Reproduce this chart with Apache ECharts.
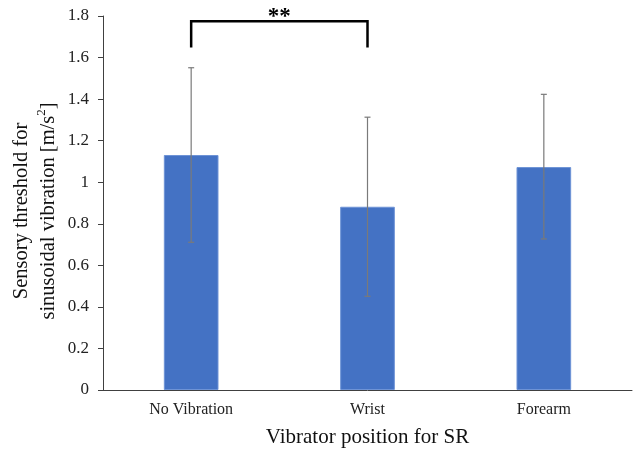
<!DOCTYPE html>
<html><head><meta charset="utf-8">
<script src="https://cdn.jsdelivr.net/npm/echarts@6/dist/echarts.min.js"></script>
<style>html,body{margin:0;padding:0;background:#fff}#c{width:638px;height:453px}</style>
</head><body><div id="c"></div>
<script>
const categories = ['No Vibration', 'Wrist', 'Forearm'];
const means = [1.131, 0.882, 1.073];
const errUpper = [1.551, 1.313, 1.423];
const errLower = [0.711, 0.451, 0.727];
const yTicks = [0, 0.2, 0.4, 0.6, 0.8, 1.0, 1.2, 1.4, 1.6, 1.8];
const bracketFrom = 0, bracketTo = 1;
const bracketLow = 1.648, bracketHigh = 1.775;
const bracketLabel = '**';
const xTitle = 'Vibrator position for SR';
const yTitle = 'Sensory threshold for\nsinusoidal vibration [m/s{sup|2}]';

const FONT = '"Liberation Serif", "Times New Roman", serif';
const chart = echarts.init(document.getElementById('c'), null, {renderer: 'canvas'});

chart.setOption({
  animation: false,
  backgroundColor: '#fff',
  grid: {left: 103, right: 6, top: 16, bottom: 63, containLabel: false, outerBoundsMode: 'none'},
  graphic: [{
    type: 'text', x: 35, y: 211, rotation: Math.PI / 2,
    style: {
      text: yTitle, textAlign: 'center', textVerticalAlign: 'middle', align: 'center', verticalAlign: 'middle',
      fontFamily: FONT, fontSize: 20.5, lineHeight: 27, fill: '#111',
      rich: {sup: {fontFamily: FONT, fontSize: 13, verticalAlign: 'top', lineHeight: 27, padding: [0, 0, 6, 0], fill: '#111'}}
    }
  }],
  xAxis: {
    type: 'category', data: categories,
    axisLine: {lineStyle: {color: '#404040', width: 1}},
    axisTick: {show: false},
    axisLabel: {fontFamily: FONT, fontSize: 16, color: '#222', margin: 12},
    name: xTitle, nameLocation: 'middle', nameGap: 37,
    nameTextStyle: {fontFamily: FONT, fontSize: 21, color: '#111'}
  },
  yAxis: {
    type: 'value', min: 0, max: 1.8, interval: 0.2,
    splitLine: {show: false},
    axisLine: {show: true, lineStyle: {color: '#404040', width: 1}},
    axisTick: {show: true, length: 5, lineStyle: {color: '#404040'}},
    axisLabel: {fontFamily: FONT, fontSize: 17, color: '#222', margin: 14,
      formatter: v => { const t = yTicks.find(x => Math.abs(x - v) < 1e-9); return t === undefined ? '' : String(+t.toFixed(1)); }}
  },
  series: [
    {
      type: 'bar', data: means, barWidth: '31%',
      itemStyle: {color: '#4472C4', borderColor: '#6E93D6', borderWidth: 1}
    },
    {
      type: 'custom',
      data: categories.map((c, i) => [i, errLower[i], errUpper[i]]),
      renderItem: (params, api) => {
        const x = api.value(0);
        const lo = api.coord([x, api.value(1)]);
        const hi = api.coord([x, api.value(2)]);
        const cap = 3;
        const style = {stroke: '#7a7a7a', lineWidth: 1.2};
        return {type: 'group', children: [
          {type: 'line', shape: {x1: lo[0], y1: lo[1], x2: hi[0], y2: hi[1]}, style},
          {type: 'line', shape: {x1: hi[0] - cap, y1: hi[1], x2: hi[0] + cap, y2: hi[1]}, style},
          {type: 'line', shape: {x1: lo[0] - cap, y1: lo[1], x2: lo[0] + cap, y2: lo[1]}, style}
        ]};
      },
      z: 5
    },
    {
      type: 'custom',
      data: [[bracketFrom, bracketTo, bracketLow, bracketHigh]],
      renderItem: (params, api) => {
        const a = api.coord([api.value(0), api.value(2)]);
        const b = api.coord([api.value(1), api.value(3)]);
        const aTop = api.coord([api.value(0), api.value(3)]);
        const bLow = api.coord([api.value(1), api.value(2)]);
        return {type: 'group', children: [
          {type: 'polyline', shape: {points: [[a[0], a[1]], [aTop[0], aTop[1]], [b[0], b[1]], [bLow[0], bLow[1]]]},
           style: {stroke: '#000', lineWidth: 2.5, fill: null}},
          {type: 'text', style: {text: bracketLabel, x: (a[0] + b[0]) / 2, y: aTop[1] + 7,
            textAlign: 'center', textVerticalAlign: 'bottom', fontFamily: FONT, fontSize: 23, fontWeight: 'bold', fill: '#000'}}
        ]};
      },
      z: 6
    }
  ]
});
</script></body></html>
